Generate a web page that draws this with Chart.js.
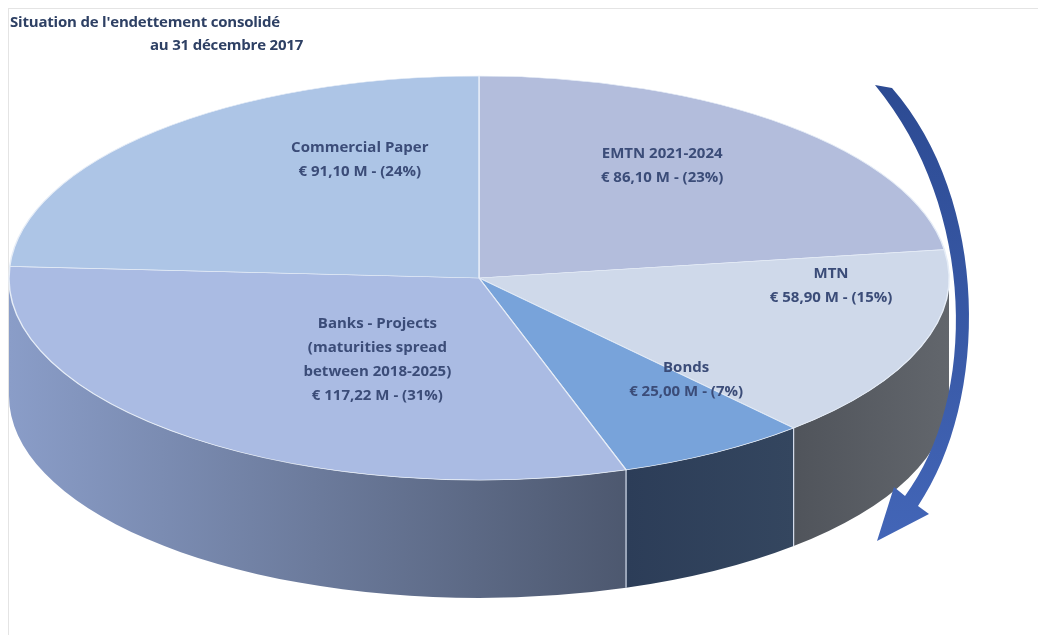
<!DOCTYPE html>
<html lang="fr">
<head>
<meta charset="UTF-8">
<title>Situation de l'endettement consolidé</title>
<script src="https://cdn.jsdelivr.net/npm/chart.js"></script>
<style>
    body { margin: 0; background: #fff; font-family: "Open Sans", Arial, sans-serif; }
    #wrap { position: relative; width: 1038px; height: 635px; overflow: hidden; }
    #frame {
        position: absolute; left: 8px; top: 8px; right: 0; bottom: 0;
        border-top: 1px solid #e4e4e4; border-left: 1px solid #e4e4e4;
    }
    canvas { position: absolute; left: 0; top: 0; }
    .title { position: absolute; font-weight: bold; font-size: 15px; color: #2e4064; white-space: nowrap; letter-spacing: -0.2px; }
    #t1 { left: 10px; top: 11px; }
    #t2 { left: 150px; top: 34px; }
</style>
</head>
<body>
<div id="wrap">
    <div id="frame"></div>
    <canvas id="pieChart" width="1038" height="635"></canvas>
    <div class="title" id="t1">Situation de l'endettement consolidé</div>
    <div class="title" id="t2">au 31 décembre 2017</div>
</div>

<script>
    // données (en millions d'euros), dans le sens horaire depuis midi
    const categories = ['EMTN 2021-2024', 'MTN', 'Bonds', 'Banks - Projects', 'Commercial Paper'];
    const subLines = [[], [], [], ['(maturities spread', 'between 2018-2025)'], []];
    const amounts = [86.10, 58.90, 25.00, 117.22, 91.10];
    const shares = ['23%', '15%', '7%', '31%', '24%'];

    // styles
    const topColors = ['#b3bddc', '#cfd9ea', '#78a3da', '#aabbe3', '#adc5e6'];
    const sideColors = [
        ['#8a94b0', '#7a8399'],
        ['#50545b', '#62666c'],
        ['#2c3d58', '#34465f'],
        ['#8a9dc8', '#4d586f'],
        ['#8ea3c4', '#7f94b6']
    ];
    const labelShift = [-6, -17, -11, -9.5, 20];   // degrés
    const labelRadius = [0.68, 0.75, 0.67, 0.46, 0.64];

    const fmt = (v, i) => '€ ' + v.toFixed(2).replace('.', ',') + ' M - (' + shares[i] + ')';

    const pie3d = {
        id: 'pie3d',
        beforeDatasetsDraw(chart, args, o) {
            const ctx = chart.ctx;
            const arcs = chart.getDatasetMeta(0).data;
            // flancs avant
            arcs.forEach((arc, i) => {
                const s = Math.max(arc.startAngle, 0);
                const e = Math.min(arc.endAngle, Math.PI);
                if (e <= s) return;
                const x1 = o.cx + o.rx * Math.cos(s), x2 = o.cx + o.rx * Math.cos(e);
                const g = ctx.createLinearGradient(Math.min(x1, x2), 0, Math.max(x1, x2), 0);
                g.addColorStop(0, sideColors[i][0]);
                g.addColorStop(1, sideColors[i][1]);
                ctx.beginPath();
                ctx.ellipse(o.cx, o.cy, o.rx, o.ry, 0, s, e);
                ctx.ellipse(o.cx, o.cy + o.depth, o.rx, o.ry, 0, e, s, true);
                ctx.closePath();
                ctx.fillStyle = g;
                ctx.fill();
            });
            // séparations sur le flanc
            ctx.strokeStyle = '#d6deee';
            ctx.lineWidth = 1.2;
            arcs.forEach(arc => {
                const a = arc.endAngle;
                if (a <= 0 || a >= Math.PI) return;
                const x = o.cx + o.rx * Math.cos(a), y = o.cy + o.ry * Math.sin(a);
                ctx.beginPath();
                ctx.moveTo(x, y);
                ctx.lineTo(x, y + o.depth);
                ctx.stroke();
            });
            // dessus aplati
            const a0 = arcs[0];
            ctx.save();
            ctx.translate(o.cx, o.cy);
            ctx.scale(o.rx / a0.outerRadius, o.ry / a0.outerRadius);
            ctx.translate(-a0.x, -a0.y);
        },
        afterDatasetsDraw(chart, args, o) {
            const ctx = chart.ctx;
            ctx.restore();
            const arcs = chart.getDatasetMeta(0).data;
            ctx.save();
            ctx.fillStyle = '#3b4c78';
            ctx.font = 'bold 15px "Open Sans", Arial, sans-serif';
            ctx.textAlign = 'center';
            ctx.textBaseline = 'middle';
            arcs.forEach((arc, i) => {
                const mid = (arc.startAngle + arc.endAngle) / 2 + labelShift[i] * Math.PI / 180;
                const x = o.cx + o.rx * labelRadius[i] * Math.cos(mid);
                const y = o.cy + o.ry * labelRadius[i] * Math.sin(mid);
                const lines = [categories[i], ...subLines[i], fmt(amounts[i], i)];
                const lh = 24;
                lines.forEach((t, k) => ctx.fillText(t, x, y + (k - (lines.length - 1) / 2) * lh));
            });
            ctx.restore();
        },
        afterDraw(chart) {
            // flèche courbe (sens horaire)
            const ctx = chart.ctx;
            ctx.save();
            const g = ctx.createLinearGradient(0, 80, 0, 550);
            g.addColorStop(0, '#2c4a92');
            g.addColorStop(1, '#4366b8');
            ctx.fillStyle = g;
            ctx.beginPath();
            ctx.moveTo(875, 85);
            ctx.lineTo(892, 88);
            ctx.bezierCurveTo(990, 200, 990, 400, 918, 506);
            ctx.lineTo(929, 514);
            ctx.lineTo(877, 541);
            ctx.lineTo(894, 487);
            ctx.lineTo(905, 496);
            ctx.bezierCurveTo(977, 400, 978, 210, 875, 85);
            ctx.closePath();
            ctx.fill();
            ctx.restore();
        }
    };

    new Chart(document.getElementById('pieChart'), {
        type: 'pie',
        data: {
            labels: categories,
            datasets: [{
                data: amounts,
                backgroundColor: topColors,
                borderColor: '#e6edf7',
                borderWidth: 1,
                clip: false
            }]
        },
        options: {
            responsive: false,
            animation: false,
            events: [],
            rotation: 0,
            plugins: {
                legend: { display: false },
                tooltip: { enabled: false },
                pie3d: { cx: 479, cy: 278, rx: 470, ry: 202, depth: 118 }
            }
        },
        plugins: [pie3d]
    });
</script>
</body>
</html>
